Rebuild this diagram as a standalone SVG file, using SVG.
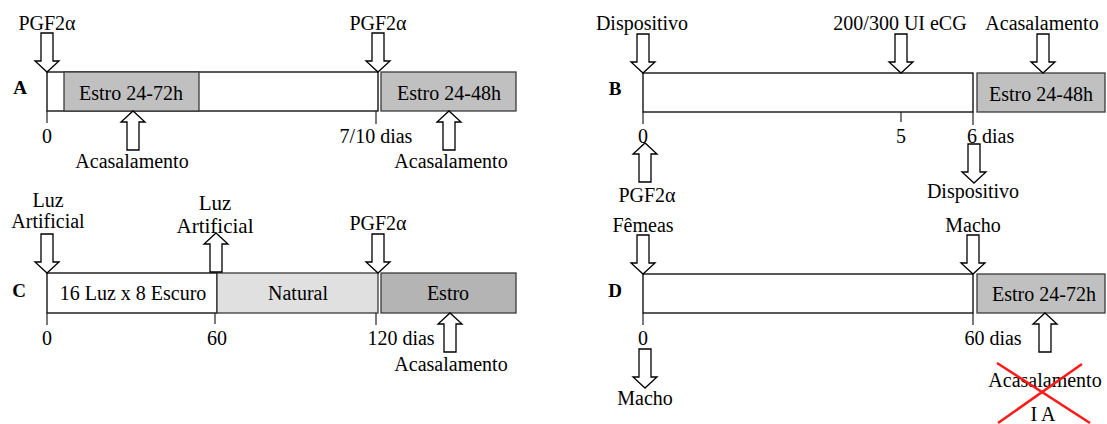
<svg xmlns="http://www.w3.org/2000/svg" width="1107" height="424" viewBox="0 0 1107 424">
<style>
.t{font-family:"Liberation Serif","Times New Roman",serif;font-size:20px;fill:#000;text-anchor:middle}
.s{text-anchor:start}
.lbl{font-size:19px;font-weight:bold}
.w{fill:#fff;stroke:#000;stroke-width:1.3}
.g{fill:#c0c0c0;stroke:#3a3a3a;stroke-width:1.3}
.n{fill:#e0e0e0;stroke:#3a3a3a;stroke-width:1.3}
.d{fill:#b4b4b4;stroke:#3a3a3a;stroke-width:1.3}
.arr{fill:#fff;stroke:#000;stroke-width:1.3}
.tk{stroke:#222;stroke-width:1.2}
.x{stroke:#ff1a1a;stroke-width:2.5}
</style>
<defs>
<path id="ad" d="M-6,-39 H6 V-11 H12 L0,0 L-12,-11 H-6 Z"/>
</defs>

<g id="panelA">
<text class="t lbl" x="20" y="94">A</text>
<g id="A-bar"><rect class="w" x="47" y="72" width="331" height="39"/></g>
<g id="A-estro1"><rect class="g" x="64" y="72" width="135" height="39"/><text class="t" x="131" y="100">Estro 24-72h</text></g>
<g id="A-estro2"><rect class="g" x="381" y="72" width="135" height="39"/><text class="t" x="449" y="100">Estro 24-48h</text></g>
<g id="A-pgf1"><text class="t" x="47" y="30">PGF2α</text></g>
<g id="A-pgf2"><text class="t" x="378" y="30">PGF2α</text></g>
<g id="A-d0"><text class="t" x="47" y="143">0</text></g>
<g id="A-d7"><text class="t" x="376" y="143">7/10 dias</text></g>
<g id="A-acas1"><text class="t" x="132" y="168">Acasalamento</text></g>
<g id="A-acas2"><text class="t" x="451" y="168">Acasalamento</text></g>
</g>

<g id="panelB">
<text class="t lbl" x="615" y="95">B</text>
<g id="B-bar"><rect class="w" x="643" y="73" width="330" height="39"/></g>
<g id="B-estro"><rect class="g" x="977" y="73" width="128" height="39"/><text class="t" x="1041" y="101">Estro 24-48h</text></g>
<g id="B-disp1"><text class="t" x="642" y="30">Dispositivo</text></g>
<g id="B-ecg"><text class="t" x="900" y="30">200/300 UI eCG</text></g>
<g id="B-acas"><text class="t" x="1042" y="30">Acasalamento</text></g>
<g id="B-d0"><text class="t" x="643" y="143">0</text></g>
<g id="B-d5"><text class="t" x="901" y="143">5</text></g>
<g id="B-d6"><text class="t s" x="967" y="143">6 dias</text></g>
<g id="B-pgf"><text class="t" x="647" y="202">PGF2α</text></g>
<g id="B-disp2"><text class="t" x="973" y="198">Dispositivo</text></g>
</g>

<g id="panelC">
<text class="t lbl" x="19" y="297">C</text>
<g id="C-luz1"><text class="t" x="48" y="207">Luz</text><text class="t" x="48" y="228">Artificial</text></g>
<g id="C-luz2"><text class="t" x="215" y="210" style="font-size:21px">Luz</text><text class="t" x="215" y="233" style="font-size:21px">Artificial</text></g>
<g id="C-luzbox"><rect class="w" x="47" y="273" width="170" height="40"/><text class="t" x="133" y="300">16 Luz x 8 Escuro</text></g>
<g id="C-natural"><rect class="n" x="217" y="273" width="161" height="40"/><text class="t" x="298" y="300">Natural</text></g>
<g id="C-estro"><rect class="d" x="381" y="273" width="135" height="40"/><text class="t" x="448" y="300">Estro</text></g>
<g id="C-pgf"><text class="t" x="378" y="230">PGF2α</text></g>
<g id="C-d0"><text class="t" x="47" y="345">0</text></g>
<g id="C-d60"><text class="t" x="217" y="345">60</text></g>
<g id="C-d120"><text class="t" x="401" y="345">120 dias</text></g>
<g id="C-acas"><text class="t" x="451" y="371">Acasalamento</text></g>
</g>

<g id="panelD">
<text class="t lbl" x="615" y="297">D</text>
<g id="D-bar"><rect class="w" x="643" y="274" width="330" height="39"/></g>
<g id="D-estro"><rect class="g" x="977" y="274" width="128" height="39"/><text class="t" x="1044" y="301">Estro 24-72h</text></g>
<g id="D-femeas"><text class="t" x="643" y="232">Fêmeas</text></g>
<g id="D-macho1"><text class="t" x="973" y="232">Macho</text></g>
<g id="D-d0"><text class="t" x="643" y="345">0</text></g>
<g id="D-d60"><text class="t" x="993" y="345">60 dias</text></g>
<g id="D-macho2"><text class="t" x="645" y="405">Macho</text></g>
<g id="D-acas"><text class="t" x="1045" y="387">Acasalamento</text><text class="t" x="1043" y="421">I A</text>
<line class="x" x1="997" y1="363" x2="1090" y2="423"/><line class="x" x1="1082" y1="364" x2="998" y2="423"/></g>
</g>

<g id="connectors">
<g id="ticks">
<line class="tk" x1="47" y1="111" x2="47" y2="123"/>
<line class="tk" x1="376" y1="111" x2="376" y2="124"/>
<line class="tk" x1="643" y1="112" x2="643" y2="124"/>
<line class="tk" x1="901" y1="112" x2="901" y2="122"/>
<line class="tk" x1="973" y1="112" x2="973" y2="125"/>
<line class="tk" x1="47" y1="313" x2="47" y2="325"/>
<line class="tk" x1="215" y1="313" x2="215" y2="324"/>
<line class="tk" x1="376" y1="313" x2="376" y2="325"/>
<line class="tk" x1="643" y1="313" x2="643" y2="325"/>
<line class="tk" x1="973" y1="313" x2="973" y2="325"/>
</g>
<use href="#ad" class="arr" transform="translate(47,72)"/>
<use href="#ad" class="arr" transform="translate(378,72)"/>
<use href="#ad" class="arr" transform="translate(133,111) rotate(180)"/>
<use href="#ad" class="arr" transform="translate(449,111) rotate(180)"/>
<use href="#ad" class="arr" transform="translate(643,73)"/>
<use href="#ad" class="arr" transform="translate(901,73)"/>
<use href="#ad" class="arr" transform="translate(1043,73)"/>
<use href="#ad" class="arr" transform="translate(645,143) rotate(180)"/>
<use href="#ad" class="arr" transform="translate(974,183)"/>
<use href="#ad" class="arr" transform="translate(47,273)"/>
<use href="#ad" class="arr" transform="translate(216,233) rotate(180)"/>
<use href="#ad" class="arr" transform="translate(378,273)"/>
<use href="#ad" class="arr" transform="translate(450,313) rotate(180)"/>
<use href="#ad" class="arr" transform="translate(643,274)"/>
<use href="#ad" class="arr" transform="translate(973,274)"/>
<use href="#ad" class="arr" transform="translate(645,388)"/>
<use href="#ad" class="arr" transform="translate(1045,313) rotate(180)"/>
</g>
</svg>
